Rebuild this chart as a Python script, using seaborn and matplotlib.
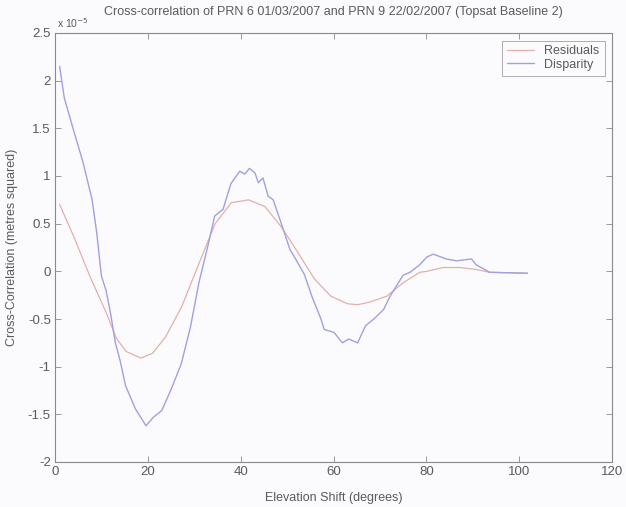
import matplotlib
matplotlib.use("Agg")
import matplotlib.pyplot as plt
from matplotlib.ticker import FuncFormatter, MultipleLocator
import seaborn as sns
import pandas as pd

# Cross-correlation values are in units of 1e-5 m^2
SCALE = 1e-5

disparity_shift = [1, 2, 4, 6, 8, 9, 10, 11, 12, 13, 14, 15.2, 17.3, 19.6, 21.2, 23, 25,
                   27.2, 29.2, 31, 33, 34.4, 36.2, 37.9, 39.8, 40.9, 41.9, 43.1, 43.8,
                   44.8, 45.9, 47, 48.7, 50.6, 51.6, 53.7, 55.4, 57.3, 58, 60.1, 61.9,
                   63.3, 65.2, 66.9, 68.7, 70.8, 72.2, 73.6, 75, 76.5, 78.6, 80.1, 81.5,
                   84.3, 86.5, 89.7, 90.7, 93.6, 101.8]
disparity = [2.15, 1.82, 1.48, 1.15, 0.75, 0.40, -0.05, -0.20, -0.45, -0.75, -0.93, -1.20,
             -1.44, -1.62, -1.53, -1.46, -1.24, -0.97, -0.58, -0.12, 0.28, 0.58, 0.65,
             0.92, 1.05, 1.02, 1.08, 1.03, 0.93, 0.98, 0.79, 0.75, 0.51, 0.23, 0.15,
             -0.03, -0.27, -0.50, -0.61, -0.64, -0.75, -0.71, -0.75, -0.57, -0.50,
             -0.40, -0.26, -0.15, -0.04, -0.01, 0.07, 0.15, 0.18, 0.13, 0.11, 0.13,
             0.07, -0.01, -0.02]

residual_shift = [1, 4, 7.5, 11, 13.2, 15.3, 18.5, 21, 23.8, 27.3, 31, 34.5, 38, 41.7,
                  45.2, 48.7, 52.3, 55.9, 59.4, 63, 65.2, 68, 71.5, 75, 78.6, 80.1,
                  83.6, 87.2, 90.7, 93.6, 101.8]
residuals = [0.70, 0.37, -0.05, -0.43, -0.70, -0.84, -0.91, -0.86, -0.69, -0.37, 0.08,
             0.50, 0.72, 0.75, 0.68, 0.47, 0.20, -0.08, -0.26, -0.34, -0.35, -0.32,
             -0.26, -0.12, -0.01, 0.00, 0.04, 0.04, 0.02, -0.01, -0.02]

res_df = pd.DataFrame({"shift": residual_shift, "value": [v * SCALE for v in residuals]})
dis_df = pd.DataFrame({"shift": disparity_shift, "value": [v * SCALE for v in disparity]})

sns.set_theme(style="white")
plt.rcParams["font.family"] = ["Liberation Sans", "DejaVu Sans"]

text_col = "#5a5a5a"
edge_col = "#8a8a8a"
red = "#e2b0aa"
blue = "#a0a0e2"
bg = "#fbfbfd"

fig = plt.figure(figsize=(6.26, 5.07), dpi=100, facecolor=bg)
ax = fig.add_axes([55 / 626, 1 - 462 / 507, (612 - 55) / 626, (462 - 33) / 507])
ax.set_facecolor(bg)

sns.lineplot(data=res_df, x="shift", y="value", ax=ax, color=red, lw=0.9,
             label="Residuals")
sns.lineplot(data=dis_df, x="shift", y="value", ax=ax, color=blue, lw=1.0,
             label="Disparity")

ax.set_xlim(0, 120)
ax.set_ylim(-2 * SCALE, 2.5 * SCALE)
ax.xaxis.set_major_locator(MultipleLocator(20))
ax.yaxis.set_major_locator(MultipleLocator(0.5 * SCALE))
ax.yaxis.set_major_formatter(FuncFormatter(lambda v, p: f"{v / SCALE:g}"))

ax.tick_params(direction="in", length=4, width=0.6, colors=edge_col,
               labelcolor=text_col, labelsize=9.5, top=True, right=True,
               bottom=True, left=True, pad=3)
for s in ax.spines.values():
    s.set_color(edge_col)
    s.set_linewidth(0.8)

ax.set_xlabel("Elevation Shift (degrees)", fontsize=9, color=text_col, labelpad=10)
ax.set_ylabel("Cross-Correlation (metres squared)", fontsize=9, color=text_col,
              labelpad=7)
ax.set_title("Cross-correlation of PRN 6 01/03/2007 and PRN 9 22/02/2007 (Topsat Baseline 2)",
             fontsize=9, color=text_col, pad=13)
ax.text(0.003, 1.008, r"x 10$^{-5}$", transform=ax.transAxes, fontsize=7.5,
        color=text_col, ha="left", va="bottom")

leg = ax.legend(loc="upper right", fontsize=9, frameon=True, fancybox=False,
                handlelength=2.2, borderaxespad=0.6, labelspacing=0.1,
                borderpad=0.4, handletextpad=0.8)
leg.get_frame().set_edgecolor(edge_col)
leg.get_frame().set_linewidth(0.6)
leg.get_frame().set_facecolor(bg)
for t in leg.get_texts():
    t.set_color(text_col)

fig.savefig("out.png", dpi=100, facecolor=fig.get_facecolor())
